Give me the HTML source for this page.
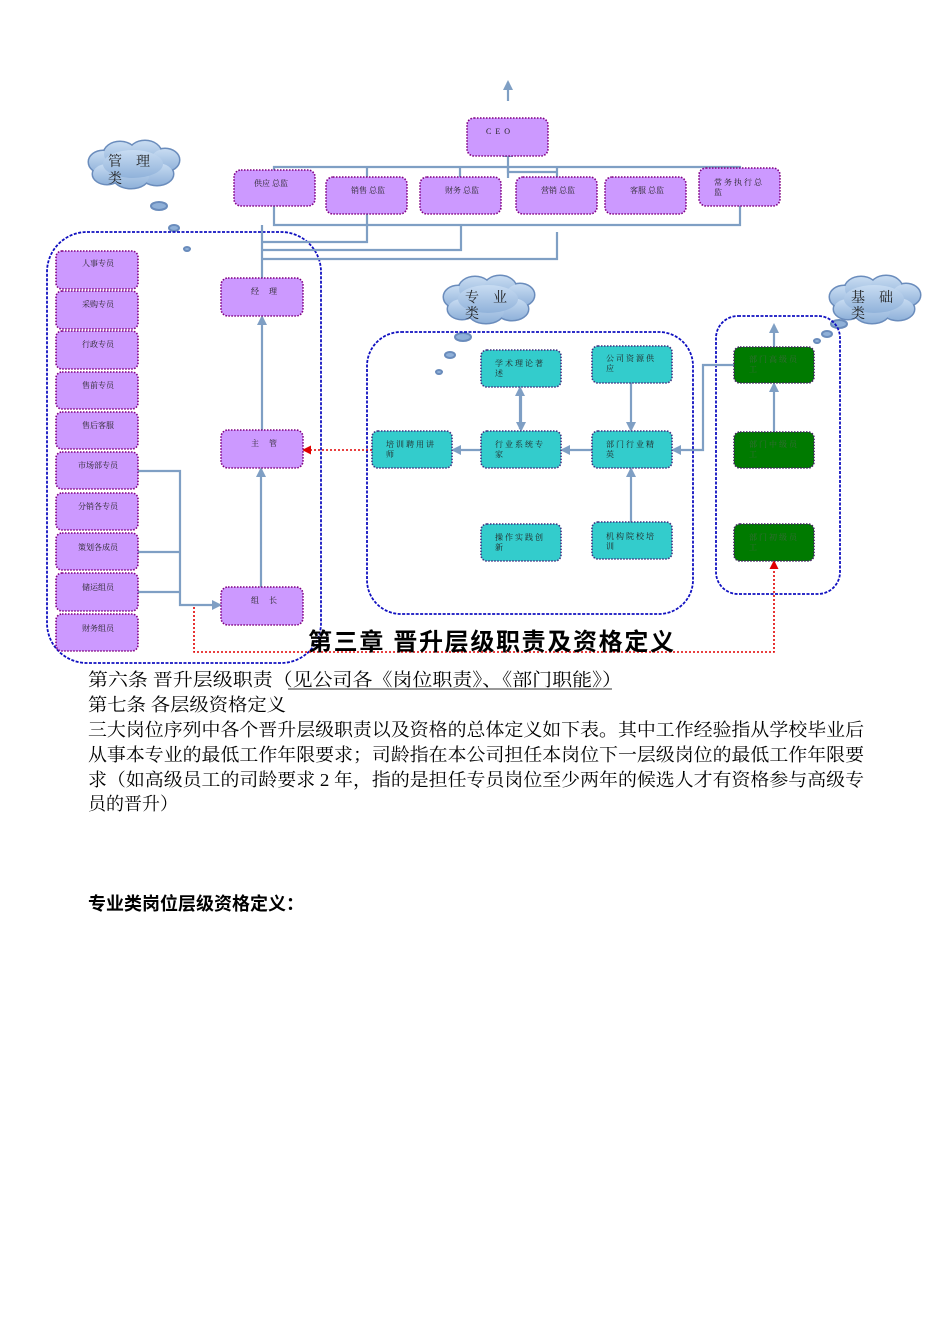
<!DOCTYPE html>
<html><head><meta charset="utf-8"><style>
html,body{margin:0;padding:0;background:#fff}
svg{display:block}
.b{fill:#cc99ff;stroke:#800080;stroke-width:1.6;stroke-dasharray:1.5 1.5}
.t{fill:#33cccc;stroke:#403080;stroke-width:1.6;stroke-dasharray:1.5 1.5}
.g{fill:#007a00;stroke:#402060;stroke-width:1.6;stroke-dasharray:1.5 1.5}
.c{fill:none;stroke:#1010c0;stroke-width:1.8;stroke-dasharray:3 1.5}
.l{fill:none;stroke:#7f9fc4;stroke-width:2.2}
.r{fill:none;stroke:#e00000;stroke-width:1.6;stroke-dasharray:2 2}
.s{font-family:"Liberation Serif","Noto Serif CJK SC",serif;font-size:8px;fill:#222}
.sg{font-family:"Liberation Serif","Noto Serif CJK SC",serif;font-size:8px;fill:#3a6a3a}
.cl{font-family:"Liberation Serif","Noto Serif CJK SC",serif;font-size:14px;fill:#222}
.p{font-family:"Liberation Serif","Noto Serif CJK SC",serif;font-size:18px;fill:#000}
.cs{fill:#8fb0d8;stroke:#6a8cbc;stroke-width:2}
</style></head><body>
<svg width="950" height="1344" viewBox="0 0 950 1344" xmlns="http://www.w3.org/2000/svg">
<defs>
<marker id="a" markerWidth="10" markerHeight="10" refX="8" refY="5" orient="auto" markerUnits="userSpaceOnUse"><path d="M0,0 L10,5 L0,10z" fill="#7f9fc4"/></marker>
<marker id="ar" markerWidth="9" markerHeight="9" refX="7" refY="4.5" orient="auto" markerUnits="userSpaceOnUse"><path d="M0,0 L9,4.5 L0,9z" fill="#e00000"/></marker>
<linearGradient id="cg" x1="0" y1="0" x2="0" y2="1"><stop offset="0" stop-color="#c8dcf2"/><stop offset="1" stop-color="#90b2da"/></linearGradient>
<g id="cloud">
<g stroke="#6a8cbc" stroke-width="3" fill="none">
<ellipse cx="18" cy="22" rx="14" ry="11"/><ellipse cx="35" cy="14" rx="16" ry="12"/><ellipse cx="60" cy="13" rx="16" ry="12"/><ellipse cx="80" cy="20" rx="14" ry="11"/><ellipse cx="72" cy="34" rx="16" ry="11"/><ellipse cx="46" cy="36" rx="18" ry="12"/><ellipse cx="22" cy="34" rx="14" ry="10"/>
</g>
<g fill="url(#cg)">
<ellipse cx="18" cy="22" rx="14" ry="11"/><ellipse cx="35" cy="14" rx="16" ry="12"/><ellipse cx="60" cy="13" rx="16" ry="12"/><ellipse cx="80" cy="20" rx="14" ry="11"/><ellipse cx="72" cy="34" rx="16" ry="11"/><ellipse cx="46" cy="36" rx="18" ry="12"/><ellipse cx="22" cy="34" rx="14" ry="10"/><ellipse cx="48" cy="24" rx="30" ry="14"/>
</g>
</g>
</defs>

<use href="#cloud" x="85" y="140"/>
<text class="cl" x="108" y="166">管　理</text><text class="cl" x="108" y="183">类</text>
<ellipse cx="159" cy="206" rx="8" ry="4" class="cs"/><ellipse cx="174" cy="228" rx="5" ry="3" class="cs"/><ellipse cx="187" cy="249" rx="3" ry="2" class="cs"/>
<use href="#cloud" x="440" y="275"/>
<text class="cl" x="465" y="302">专　业</text><text class="cl" x="465" y="318">类</text>
<ellipse cx="463" cy="337" rx="8" ry="4" class="cs"/><ellipse cx="450" cy="355" rx="5" ry="3" class="cs"/><ellipse cx="439" cy="372" rx="3" ry="2" class="cs"/>
<use href="#cloud" x="826" y="275"/>
<text class="cl" x="851" y="302">基　础</text><text class="cl" x="851" y="318">类</text>
<ellipse cx="839" cy="324" rx="8" ry="4" class="cs"/><ellipse cx="827" cy="334" rx="5" ry="3" class="cs"/><ellipse cx="817" cy="341" rx="3" ry="2" class="cs"/>

<rect class="c" x="47" y="232" width="274" height="431" rx="40"/>
<rect class="c" x="367" y="332" width="326" height="282" rx="34"/>
<rect class="c" x="716" y="316" width="124" height="278" rx="22"/>

<path class="l" d="M508 101 V82" marker-end="url(#a)"/>
<path class="l" d="M508 178 V149" marker-end="url(#a)"/>
<path class="l" d="M274 186 V167 H740 V178"/>
<path class="l" d="M367 167 V184 M460 167 V178 M557 167 V178 M647 177 V194 M508 167 V172 H557"/>
<path class="l" d="M274 198 V225 H740 V198"/>
<path class="l" d="M262 225 V287"/>
<path class="l" d="M262 242 H367 V214 M262 250 H461 V225 M262 259 H557 V232"/>
<path class="l" d="M262 430 V317" marker-end="url(#a)"/>
<path class="l" d="M261 587 V469" marker-end="url(#a)"/>
<path class="l" d="M138 471 H180 V605 H220" marker-end="url(#a)"/>
<path class="l" d="M138 552 H180 M138 592 H180"/>

<path class="l" d="M520 429 V388" marker-end="url(#a)"/>
<path class="l" d="M521 390 V430" marker-end="url(#a)"/>
<path class="l" d="M631 383 V430" marker-end="url(#a)"/>
<path class="l" d="M592 450 H562" marker-end="url(#a)"/>
<path class="l" d="M481 450 H453" marker-end="url(#a)"/>
<path class="l" d="M631 522 V469" marker-end="url(#a)"/>
<path class="l" d="M734 365 H703 V450 H673" marker-end="url(#a)"/>
<path class="l" d="M774 432 V384" marker-end="url(#a)"/>
<path class="l" d="M774 347 V325" marker-end="url(#a)"/>

<path class="r" d="M372 450 H304" marker-end="url(#ar)"/>
<path class="r" d="M194 607 V652 H774 V562" marker-end="url(#ar)"/>

<rect class="b" x="467" y="118" width="81" height="38" rx="7"/><text class="s" x="486" y="134" letter-spacing="4">CEO</text>
<rect class="b" x="234" y="170" width="81" height="36" rx="7"/><text class="s" x="254" y="186">供应  总监</text>
<rect class="b" x="326" y="177" width="81" height="37" rx="7"/><text class="s" x="351" y="193">销售  总监</text>
<rect class="b" x="420" y="177" width="81" height="37" rx="7"/><text class="s" x="445" y="193">财务  总监</text>
<rect class="b" x="516" y="177" width="81" height="37" rx="7"/><text class="s" x="541" y="193">营销  总监</text>
<rect class="b" x="605" y="177" width="81" height="37" rx="7"/><text class="s" x="630" y="193">客服  总监</text>
<rect class="b" x="699" y="168" width="81" height="38" rx="7"/><text class="s" x="714" y="185" letter-spacing="2">常务执行总</text><text class="s" x="714" y="195">监</text>
<g>
<rect class="b" x="56" y="251" width="82" height="38" rx="6"/><text class="s" x="82" y="266">人事专员</text>
<rect class="b" x="56" y="291" width="82" height="38" rx="6"/><text class="s" x="82" y="307">采购专员</text>
<rect class="b" x="56" y="331" width="82" height="38" rx="6"/><text class="s" x="82" y="347">行政专员</text>
<rect class="b" x="56" y="372" width="82" height="37" rx="6"/><text class="s" x="82" y="388">售前专员</text>
<rect class="b" x="56" y="412" width="82" height="37" rx="6"/><text class="s" x="82" y="428">售后客服</text>
<rect class="b" x="56" y="452" width="82" height="37" rx="6"/><text class="s" x="78" y="468">市场部专员</text>
<rect class="b" x="56" y="493" width="82" height="37" rx="6"/><text class="s" x="78" y="509">分销各专员</text>
<rect class="b" x="56" y="533" width="82" height="37" rx="6"/><text class="s" x="78" y="550">策划各成员</text>
<rect class="b" x="56" y="573" width="82" height="38" rx="6"/><text class="s" x="82" y="590">储运组员</text>
<rect class="b" x="56" y="614" width="82" height="37" rx="6"/><text class="s" x="82" y="631">财务组员</text>
</g>
<rect class="b" x="221" y="278" width="82" height="38" rx="7"/><text class="s" x="251" y="294">经　 理</text>
<rect class="b" x="221" y="430" width="82" height="38" rx="7"/><text class="s" x="251" y="446">主　 管</text>
<rect class="b" x="221" y="587" width="82" height="38" rx="7"/><text class="s" x="251" y="603">组　 长</text>

<rect class="t" x="481" y="350" width="80" height="37" rx="6"/><text class="s" x="495" y="366" letter-spacing="2">学术理论著</text><text class="s" x="495" y="376">述</text>
<rect class="t" x="592" y="346" width="80" height="37" rx="6"/><text class="s" x="606" y="361" letter-spacing="2">公司资源供</text><text class="s" x="606" y="371">应</text>
<rect class="t" x="372" y="431" width="80" height="37" rx="6"/><text class="s" x="386" y="447" letter-spacing="2">培训聘用讲</text><text class="s" x="386" y="457">师</text>
<rect class="t" x="481" y="431" width="80" height="37" rx="6"/><text class="s" x="495" y="447" letter-spacing="2">行业系统专</text><text class="s" x="495" y="457">家</text>
<rect class="t" x="592" y="431" width="80" height="37" rx="6"/><text class="s" x="606" y="447" letter-spacing="2">部门行业精</text><text class="s" x="606" y="457">英</text>
<rect class="t" x="481" y="524" width="80" height="37" rx="6"/><text class="s" x="495" y="540" letter-spacing="2">操作实践创</text><text class="s" x="495" y="550">新</text>
<rect class="t" x="592" y="522" width="80" height="37" rx="6"/><text class="s" x="606" y="539" letter-spacing="2">机构院校培</text><text class="s" x="606" y="549">训</text>

<rect class="g" x="734" y="347" width="80" height="36" rx="6"/><text class="sg" x="749" y="362" letter-spacing="2">部门高级员</text><text class="sg" x="749" y="372">工</text>
<rect class="g" x="734" y="432" width="80" height="36" rx="6"/><text class="sg" x="749" y="447" letter-spacing="2">部门中级员</text><text class="sg" x="749" y="457">工</text>
<rect class="g" x="734" y="524" width="80" height="37" rx="6"/><text class="sg" x="749" y="540" letter-spacing="2">部门初级员</text><text class="sg" x="749" y="550">工</text>

<text x="308" y="650" font-family="'Liberation Sans','Noto Sans CJK SC',sans-serif" font-size="24" font-weight="bold" fill="#000" textLength="366">第三章  晋升层级职责及资格定义</text>
<text class="p" x="88" y="686" textLength="534" lengthAdjust="spacingAndGlyphs">第六条 晋升层级职责（见公司各《岗位职责》、《部门职能》）</text>
<line x1="288" y1="689" x2="612" y2="689" stroke="#333" stroke-width="1"/>
<text class="p" x="88" y="711" textLength="198" lengthAdjust="spacingAndGlyphs">第七条 各层级资格定义</text>
<text class="p" x="88" y="736" textLength="776" lengthAdjust="spacingAndGlyphs">三大岗位序列中各个晋升层级职责以及资格的总体定义如下表。其中工作经验指从学校毕业后</text>
<text class="p" x="88" y="761" textLength="776" lengthAdjust="spacingAndGlyphs">从事本专业的最低工作年限要求；司龄指在本公司担任本岗位下一层级岗位的最低工作年限要</text>
<text class="p" x="88" y="786" textLength="776" lengthAdjust="spacingAndGlyphs">求（如高级员工的司龄要求 2 年，指的是担任专员岗位至少两年的候选人才有资格参与高级专</text>
<text class="p" x="88" y="810">员的晋升）</text>
<text x="88" y="910" font-family="'Liberation Sans','Noto Sans CJK SC',sans-serif" font-size="18" font-weight="bold" fill="#000">专业类岗位层级资格定义：</text>
</svg>
</body></html>
